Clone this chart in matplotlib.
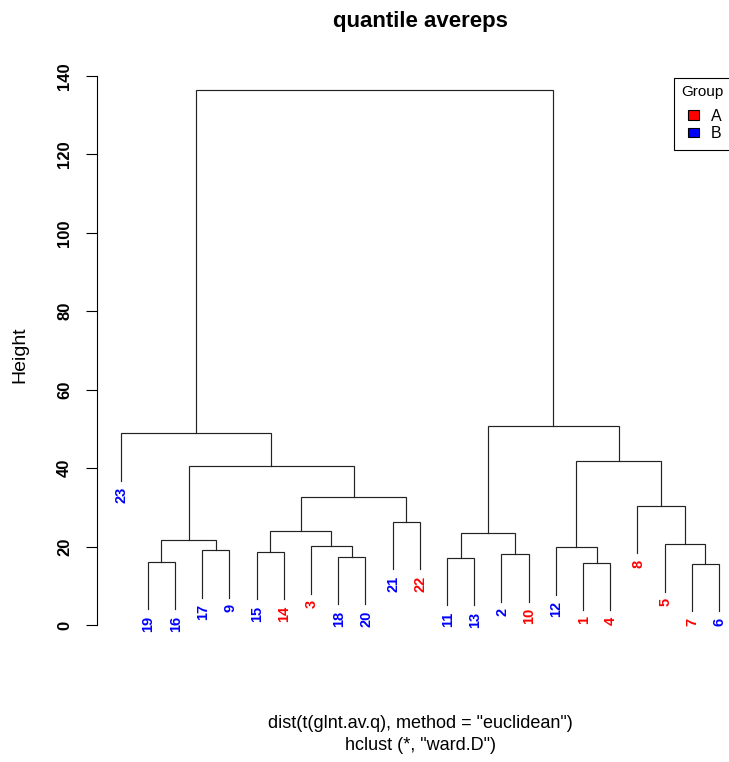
import matplotlib
matplotlib.use("Agg")
import matplotlib.pyplot as plt
from matplotlib.patches import Rectangle

plt.rcParams['font.family'] = ['Liberation Sans', 'DejaVu Sans']

# hclust result, R style: negative = leaf (sample number), positive = earlier merge step
merge_left = [-19, -17, 1, -15, -18, -3, 4, -21, 7, 3, -23,
              -11, -2, 12, -1, -12, -7, -5, -8, 16, 14, 11]
merge_right = [-16, -9, 2, -14, -20, 5, 6, -22, 8, 9, 10,
               -13, -10, 13, -4, 15, -6, 17, 18, 19, 20, 21]
merge_height = [16.1, 19.1, 21.6, 18.6, 17.4, 20.1, 23.9, 26.3, 32.6, 40.6, 48.9,
                17.1, 18.0, 23.4, 15.9, 19.8, 15.6, 20.6, 30.4, 41.8, 50.8, 136.5]

leaf_order = [23, 19, 16, 17, 9, 15, 14, 3, 18, 20, 21, 22,
              11, 13, 2, 10, 12, 1, 4, 8, 5, 7, 6]
group_A = [1, 3, 4, 5, 7, 8, 10, 14, 22]
group_names = ["A", "B"]
group_colors = ["red", "blue"]

W, H = 729, 762
fig = plt.figure(figsize=(W / 100, H / 100), dpi=100)
ax = fig.add_axes([96.7 / W, 137 / H, (743 - 96.7) / W, 549 / H])

hang = 0.1 * (max(merge_height) - min(merge_height))
leaf_pos = {s: i + 1 for i, s in enumerate(leaf_order)}
node_x = {}

def child_xy(c, h):
    if c < 0:
        return leaf_pos[-c], h - hang
    return node_x[c], merge_height[c - 1]

for k in range(len(merge_height)):
    h = merge_height[k]
    x1, y1 = child_xy(merge_left[k], h)
    x2, y2 = child_xy(merge_right[k], h)
    node_x[k + 1] = (x1 + x2) / 2
    ax.plot([x1, x1, x2, x2], [y1, h, h, y2], color='#222222', lw=0.85,
            solid_joinstyle='miter', clip_on=False)
    for c, x, y in [(merge_left[k], x1, y1), (merge_right[k], x2, y2)]:
        if c < 0:
            col = group_colors[0] if -c in group_A else group_colors[1]
            ax.annotate(str(-c), (x, y), xytext=(0.5, -4.5), textcoords='offset points',
                        rotation=90, ha='center', va='top', color=col,
                        fontsize=10.5, fontweight='bold', annotation_clip=False)

ax.set_xlim(0.12, 23.88)
ax.set_ylim(0, 140)
for s in ['top', 'right', 'bottom']:
    ax.spines[s].set_visible(False)
ax.spines['left'].set_bounds(0, 140)
ax.set_xticks([])
ax.set_yticks(range(0, 141, 20))
ax.tick_params(axis='y', length=7.7, width=0.8, pad=10)
for t in ax.get_yticklabels():
    t.set_rotation(90)
    t.set_va('center')
    t.set_fontsize(12)
    t.set_fontweight('bold')

fig.text(420 / W, 1 - 22 / H, "quantile avereps", ha='center', va='center',
         fontsize=16, fontweight='bold')
fig.text(20 / W, 1 - 355 / H, "Height", rotation=90, ha='center', va='center',
         fontsize=14)
fig.text(420 / W, 1 - 723 / H, 'dist(t(glnt.av.q), method = "euclidean")',
         ha='center', va='center', fontsize=13)
fig.text(420 / W, 1 - 745 / H, 'hclust (*, "ward.D")',
         ha='center', va='center', fontsize=13)

# legend box (runs past the right edge, as in the original)
fig.patches.append(Rectangle((674 / W, 1 - 150 / H), 90 / W, 72 / H,
                             transform=fig.transFigure, facecolor='white',
                             edgecolor='black', lw=0.8))
fig.text(681 / W, 1 - 92 / H, "Group", ha='left', va='center', fontsize=11)
for i, (name, col) in enumerate(zip(group_names, group_colors)):
    yc = 115 + i * 17.5
    fig.patches.append(Rectangle((688 / W, 1 - (yc + 4.8) / H), 11 / W, 9.5 / H,
                                 transform=fig.transFigure, facecolor=col,
                                 edgecolor='black', lw=0.8))
    fig.text(711 / W, 1 - (yc + 1.5) / H, name, ha='left', va='center', fontsize=11.5)

fig.savefig("out.png", dpi=100)
